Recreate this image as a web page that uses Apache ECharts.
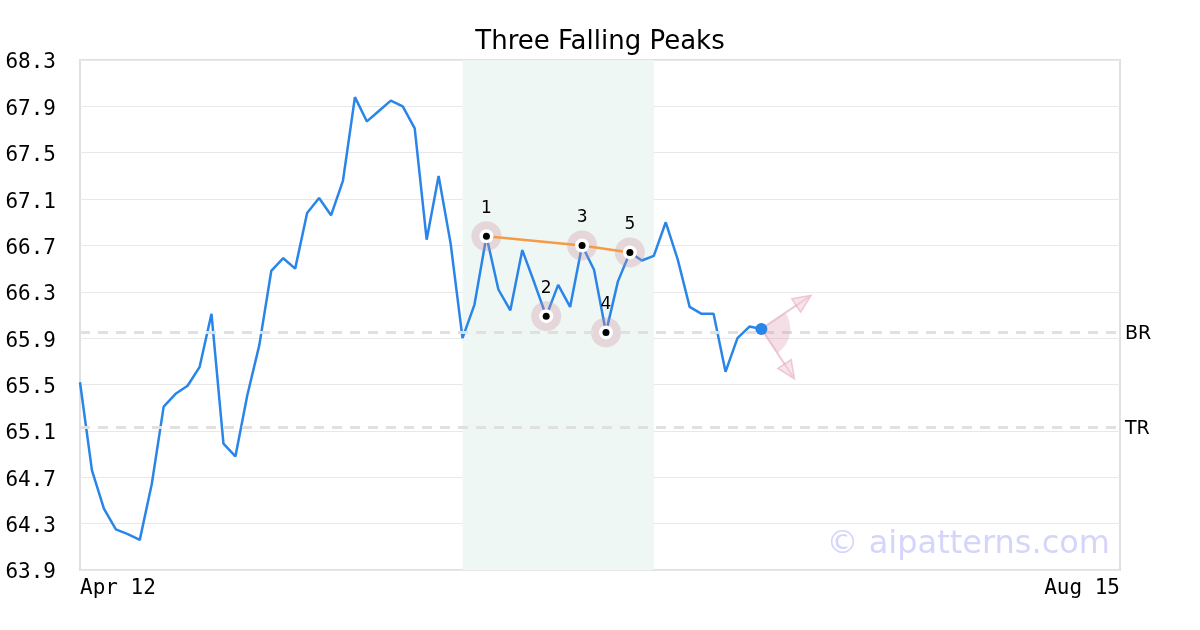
<!DOCTYPE html>
<html>
<head>
<meta charset="utf-8">
<script src="https://cdn.jsdelivr.net/npm/echarts@6/dist/echarts.min.js"></script>
<style>html,body{margin:0;padding:0;background:#fff}#c{width:1200px;height:630px}</style>
</head>
<body>
<div id="c"></div>
<script>
// ---- data ----
const xTickLabels = ['Apr 12', 'Aug 15'];
const xSlots = 88; // trading-day slots from Apr 12 to Aug 15
const prices = [65.52,64.76,64.43,64.25,64.21,64.16,64.64,65.31,65.42,65.49,65.65,66.11,64.99,64.88,65.41,65.84,66.48,66.59,66.50,66.98,67.11,66.96,67.26,67.98,67.77,67.86,67.95,67.90,67.71,66.75,67.30,66.72,65.90,66.19,66.78,66.32,66.14,66.66,66.38,66.09,66.36,66.17,66.70,66.49,65.95,66.39,66.64,66.57,66.61,66.90,66.58,66.17,66.11,66.11,65.61,65.90,66.00,65.98];
const pivotIdx = [34, 39, 42, 44, 46];
const pivotLabels = ['1', '2', '3', '4', '5'];
const peakIdx = [34, 42, 46];
const patternRange = [32, 48];
const levelValues = [65.95, 65.13];
const levelNames = ['BR', 'TR'];
const yTicks = { min: 63.9, max: 68.3, step: 0.4 };

// ---- build ----
const lineData = prices.map((v, i) => [i, v]);
const pivotData = pivotIdx.map((i, k) => ({ value: [i, prices[i]], name: pivotLabels[k] }));
const peakData = peakIdx.map(i => [i, prices[i]]);
const lastIdx = prices.length - 1;

const chart = echarts.init(document.getElementById('c'), null, { renderer: 'canvas' });
chart.setOption({
  animation: false,
  backgroundColor: '#ffffff',
  title: {
    text: 'Three Falling Peaks', left: 'center', top: 24,
    textStyle: { fontFamily: 'DejaVu Sans', fontSize: 26, fontWeight: 'normal', color: '#000' }
  },
  grid: { left: 80, right: 80, top: 60, bottom: 60, show: true, borderColor: '#e0e0e0', borderWidth: 2, backgroundColor: 'transparent' },
  xAxis: {
    type: 'value', min: 0, max: xSlots - 1, interval: xSlots - 1,
    axisLine: { show: false }, axisTick: { show: false }, splitLine: { show: false },
    axisLabel: {
      fontFamily: 'DejaVu Sans Mono', fontSize: 21, color: '#000', margin: 8,
      alignMinLabel: 'left', alignMaxLabel: 'right',
      formatter: v => (v === 0 ? xTickLabels[0] : xTickLabels[1])
    }
  },
  yAxis: {
    type: 'value', min: yTicks.min, max: yTicks.max, interval: yTicks.step,
    axisLine: { show: false }, axisTick: { show: false },
    splitLine: { lineStyle: { color: '#e8e8e8', width: 1 } },
    axisLabel: {
      margin: 24, formatter: v => '{t|' + v.toFixed(1) + '}',
      rich: { t: { fontFamily: 'DejaVu Sans Mono', fontSize: 21, color: '#000', padding: [6, 0, 0, 0] } }
    }
  },
  series: [
    {
      type: 'line', data: lineData, showSymbol: false, z: 2,
      lineStyle: { color: '#2a85e8', width: 2.5 },
      markArea: {
        silent: true,
        itemStyle: { color: '#eff7f4' },
        data: [[{ xAxis: patternRange[0] }, { xAxis: patternRange[1] }]]
      },
      markLine: {
        silent: true, symbol: 'none',
        lineStyle: { color: '#e0e0e0', type: [10, 8], width: 3 },
        label: {
          position: 'end', distance: 5, formatter: p => '{t|' + p.name + '}',
          rich: { t: { fontFamily: 'DejaVu Sans', fontSize: 19, color: '#000', padding: [4, 0, 0, 0] } }
        },
        data: levelValues.map((v, k) => ({ yAxis: v, name: levelNames[k] }))
      }
    },
    {
      type: 'scatter', data: pivotData.map(d => d.value), symbolSize: 30, z: 3, silent: true,
      itemStyle: { color: 'rgba(205,140,160,0.3)', opacity: 1 }
    },
    {
      type: 'line', data: peakData, showSymbol: false, z: 4,
      lineStyle: { color: '#f59a45', width: 2.5 }
    },
    {
      type: 'scatter', data: pivotData.map(d => d.value), symbolSize: 14, z: 5, silent: true,
      itemStyle: { color: '#ffffff', opacity: 1 }
    },
    {
      type: 'scatter', data: pivotData, symbolSize: 7, z: 6, silent: true,
      itemStyle: { color: '#000000', opacity: 1 },
      label: { show: true, position: 'top', distance: 16, fontFamily: 'DejaVu Sans', fontSize: 17, color: '#000', formatter: p => p.name }
    },
    {
      type: 'custom', z: 7, data: [[lastIdx, prices[lastIdx]]], silent: true,
      renderItem: (params, api) => {
        const c = api.coord([api.value(0), api.value(1)]);
        const a1 = Math.atan2(-33, 49), a2 = Math.atan2(50, 33);
        const L = 60, h = 18, w = 16;
        const arrow = (a) => {
          const ux = Math.cos(a), uy = Math.sin(a), nx = -uy, ny = ux;
          const tx = c[0] + L * ux, ty = c[1] + L * uy;
          const bx = tx - h * ux, by = ty - h * uy;
          return [
            { type: 'line', shape: { x1: c[0], y1: c[1], x2: tx - 3 * ux, y2: ty - 3 * uy }, style: { stroke: 'rgba(228,170,186,0.65)', lineWidth: 2 } },
            { type: 'polygon', shape: { points: [[tx, ty], [bx + nx * w / 2, by + ny * w / 2], [bx - nx * w / 2, by - ny * w / 2]] },
              style: { fill: 'rgba(242,205,215,0.55)', stroke: 'rgba(228,170,186,0.6)', lineWidth: 1.5 } }
          ];
        };
        return {
          type: 'group',
          children: [
            { type: 'sector', shape: { cx: c[0], cy: c[1], r0: 0, r: 29, startAngle: a1, endAngle: a2, clockwise: true },
              style: { fill: 'rgba(222,150,172,0.3)' } },
            ...arrow(a1), ...arrow(a2),
            { type: 'circle', shape: { cx: c[0], cy: c[1], r: 6 }, style: { fill: '#2a85e8' } }
          ]
        };
      }
    }
  ],
  graphic: [{
    type: 'text', right: 90, bottom: 69, z: 10,
    style: { text: '© aipatterns.com', fontFamily: 'DejaVu Sans', fontSize: 32, fill: '#d5d5fc' }
  }]
});
</script>
</body>
</html>
